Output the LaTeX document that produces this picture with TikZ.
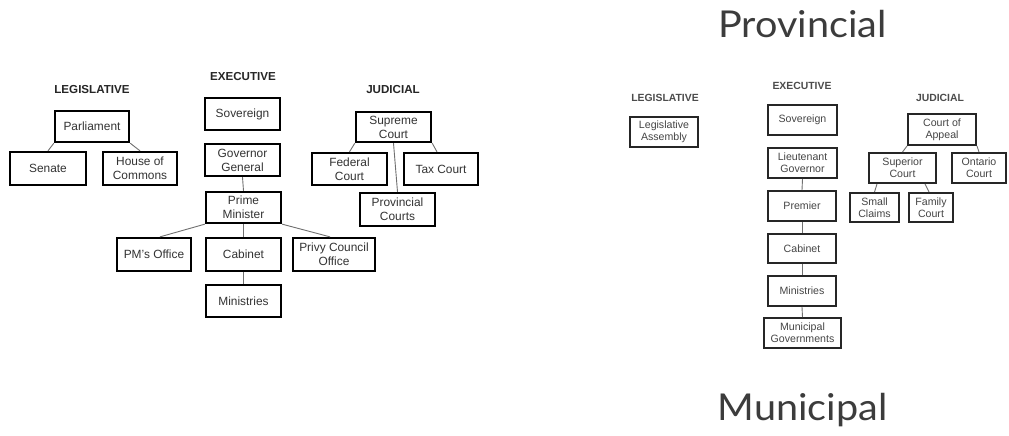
\documentclass[tikz,border=0pt]{standalone}
\usepackage{fontspec}
\setmainfont{Liberation Sans}
\newfontfamily\titlefont[FakeStretch=1.07]{Lato}
\usetikzlibrary{calc}
\definecolor{txt}{HTML}{333333}
\definecolor{txtr}{HTML}{454545}
\definecolor{conn}{HTML}{707070}
\definecolor{ttl}{HTML}{3C3C3C}
\tikzset{
  box/.style={draw=black, line width=2.3pt, align=center, inner sep=0pt, text=txt,
    font=\fontsize{11.9}{14}\selectfont},
  boxr/.style={draw=black!85, line width=2pt, align=center, inner sep=0pt, text=txtr,
    font=\fontsize{10.6}{12}\selectfont},
  head/.style={font=\bfseries\fontsize{11.6}{14}\selectfont, text=black!85, inner sep=0pt},
  headr/.style={font=\bfseries\fontsize{10.4}{12}\selectfont, text=black!70, inner sep=0pt},
  title/.style={font=\titlefont\fontsize{37}{40}\selectfont, text=ttl, inner sep=0pt, anchor=base},
  link/.style={draw=conn, line width=0.9pt},
}
\newcommand\bx[7]{\node[#1, minimum width={#4-#2-2}, minimum height={#5-#3-2}] (#6) at ({(#2+#4)/2},{(#3+#5)/2}) {#7};}
\begin{document}
\begin{tikzpicture}[x=1pt,y=-1pt]
\fill[white] (0,0) rectangle (1009,436);
\useasboundingbox (0,0) rectangle (1009,436);
% ---------- Federal (left) ----------
\node[head] (hleg) at (92,90) {LEGISLATIVE};
\node[head] (hexe) at (243,77) {EXECUTIVE};
\node[head] (hjud) at (393,90) {JUDICIAL};
\bx{box}{54}{110}{130}{143}{parl}{Parliament}
\bx{box}{9}{151}{87}{186}{senate}{Senate}
\bx{box}{102}{151}{178}{186}{house}{House of\\Commons}
\bx{box}{204}{97}{281}{131}{sov}{Sovereign}
\bx{box}{204}{143}{281}{177}{gg}{Governor\\General}
\bx{box}{205}{191}{282}{224}{pm}{Prime\\Minister}
\bx{box}{116}{237}{192}{272}{pmo}{PM’s Office}
\bx{box}{205}{237}{282}{272}{cab}{Cabinet}
\bx{box}{292}{237}{376}{272}{pco}{Privy Council\\Office}
\bx{box}{205}{284}{282}{318}{min}{Ministries}
\bx{box}{355}{111}{432}{143}{sup}{Supreme\\Court}
\bx{box}{311}{152}{388}{186}{fed}{Federal\\Court}
\bx{box}{403}{152}{479}{186}{tax}{Tax Court}
\bx{box}{359}{192}{436}{227}{provc}{Provincial\\Courts}
\draw[link] (parl.south west) -- (senate.north);
\draw[link] (parl.south east) -- (house.north);
\draw[link] (gg.south) -- (pm.north);
\draw[link] (pm.south west) -- ($(pmo.north)+(6,0)$);
\draw[link] (pm.south east) -- ($(pco.north)+(-4,0)$);
\draw[link] (pm.south) -- (cab.north);
\draw[link] (cab.south) -- (min.north);
\draw[link] (sup.south west) -- (fed.north);
\draw[link] (sup.south east) -- ($(tax.north)+(-4,0)$);
\draw[link] (sup.south) -- (provc.north);
% ---------- Provincial (right) ----------
\node[title] (tprov) at (802.5,38) {Provincial};
\node[title] (tmun) at (802.5,420) {Municipal};
\node[headr] (hleg2) at (665,98) {LEGISLATIVE};
\node[headr] (hexe2) at (802,86) {EXECUTIVE};
\node[headr] (hjud2) at (940,98) {JUDICIAL};
\bx{boxr}{629}{116}{699}{148}{la}{Legislative\\Assembly}
\bx{boxr}{767}{104}{838}{136}{sov2}{Sovereign}
\bx{boxr}{767}{147}{838}{179}{lg}{Lieutenant\\Governor}
\bx{boxr}{767}{190}{837}{222}{prem}{Premier}
\bx{boxr}{767}{233}{837}{264}{cab2}{Cabinet}
\bx{boxr}{767}{275}{837}{307}{min2}{Ministries}
\bx{boxr}{763}{317}{842}{349}{mun}{Municipal\\Governments}
\bx{boxr}{907}{113}{977}{146}{coa}{Court of\\Appeal}
\bx{boxr}{868}{152}{937}{184}{supc}{Superior\\Court}
\bx{boxr}{951}{152}{1007}{184}{ont}{Ontario\\Court}
\bx{boxr}{849}{192}{900}{223}{small}{Small\\Claims}
\bx{boxr}{908}{192}{954}{223}{fam}{Family\\Court}
\draw[link] (lg.south) -- (prem.north);
\draw[link] (prem.south) -- (cab2.north);
\draw[link] (cab2.south) -- (min2.north);
\draw[link] (min2.south) -- (mun.north);
\draw[link] (coa.south west) -- (supc.north);
\draw[link] (coa.south east) -- (ont.north);
\draw[link] ($(supc.south)+(-25.5,0)$) -- (small.north);
\draw[link] ($(supc.south)+(22.5,0)$) -- ($(fam.north)+(-2,0)$);
\end{tikzpicture}
\end{document}
